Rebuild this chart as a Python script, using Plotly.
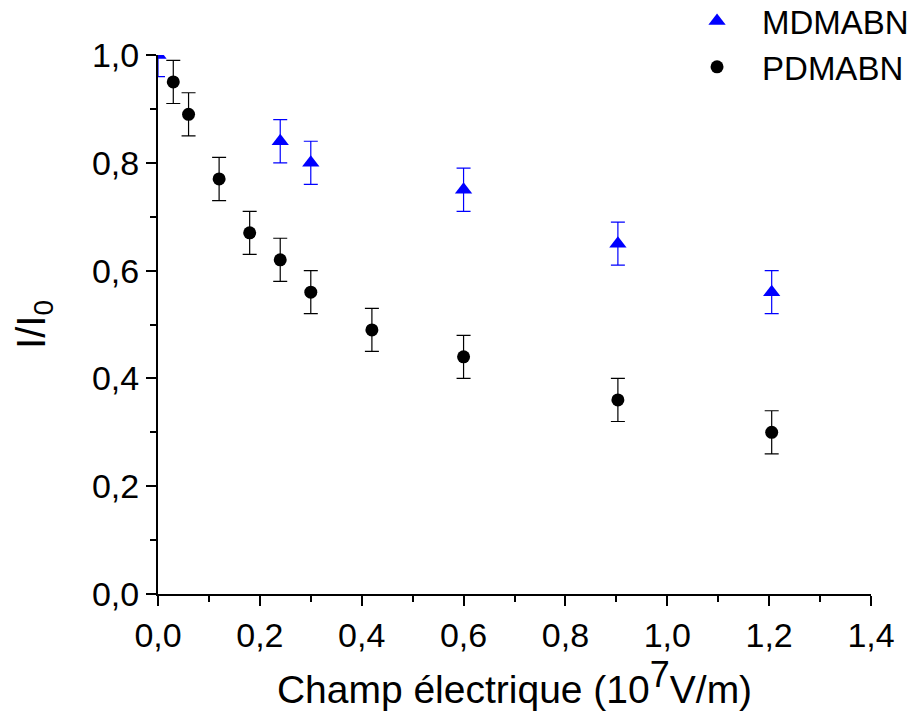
import plotly.graph_objects as go

# PDMABN data
p_x = [0.03, 0.06, 0.12, 0.18, 0.24, 0.30, 0.42, 0.60, 0.903, 1.205]
p_y = [0.95, 0.89, 0.77, 0.67, 0.62, 0.56, 0.49, 0.44, 0.36, 0.30]
p_err = [0.04] * len(p_x)

# MDMABN data
m_x = [0.0, 0.24, 0.30, 0.60, 0.903, 1.205]
m_y = [1.0, 0.84, 0.80, 0.75, 0.65, 0.56]
m_err = [0.04] * len(m_x)

font_name = "Liberation Sans, Arial, sans-serif"

fig = go.Figure()

fig.add_trace(go.Scatter(
    x=m_x, y=m_y,
    mode='markers',
    name='MDMABN',
    marker=dict(symbol='triangle-up', size=15, color='#0000ff'),
    error_y=dict(type='data', array=m_err, color='#0000ff', thickness=1.2, width=7),
    cliponaxis=True,
))

fig.add_trace(go.Scatter(
    x=p_x, y=p_y,
    mode='markers',
    name='PDMABN',
    marker=dict(symbol='circle', size=13, color='black'),
    error_y=dict(type='data', array=p_err, color='black', thickness=1.2, width=7),
    cliponaxis=True,
))

axis_common = dict(
    showgrid=False, zeroline=False,
    showline=True, linecolor='black', linewidth=2,
    ticks='outside', ticklen=10, tickwidth=2, tickcolor='black',
    tickformat='.1f',
    tickfont=dict(family=font_name, size=34, color='black'),
    minor=dict(ticks='outside', ticklen=6, tickwidth=2, tickcolor='black', dtick=0.1),
)

fig.update_xaxes(
    range=[0, 1.4], dtick=0.2, tick0=0,
    title=dict(text='Champ électrique (10<sup><span style="font-size:36px">7</span></sup>V/m)',
               font=dict(family=font_name, size=39, color='black'), standoff=12),
    **axis_common,
)
fig.update_yaxes(
    range=[0, 1.0], dtick=0.2, tick0=0,
    title=dict(text='I/I<sub>0</sub>',
               font=dict(family=font_name, size=40, color='black'), standoff=34),
    **axis_common,
)

fig.update_layout(
    width=921, height=720,
    separators=',.',
    plot_bgcolor='white', paper_bgcolor='white',
    margin=dict(l=150, r=58, t=47, b=134, autoexpand=False),
    legend=dict(
        x=0.721, y=1.115, xref='container', yref='paper', xanchor='left', yanchor='top',
        font=dict(family=font_name, size=33, color='black'),
        bgcolor='rgba(0,0,0,0)', itemwidth=80, tracegroupgap=0,
    ),
    font=dict(family=font_name),
)

fig.write_html("out.html")
